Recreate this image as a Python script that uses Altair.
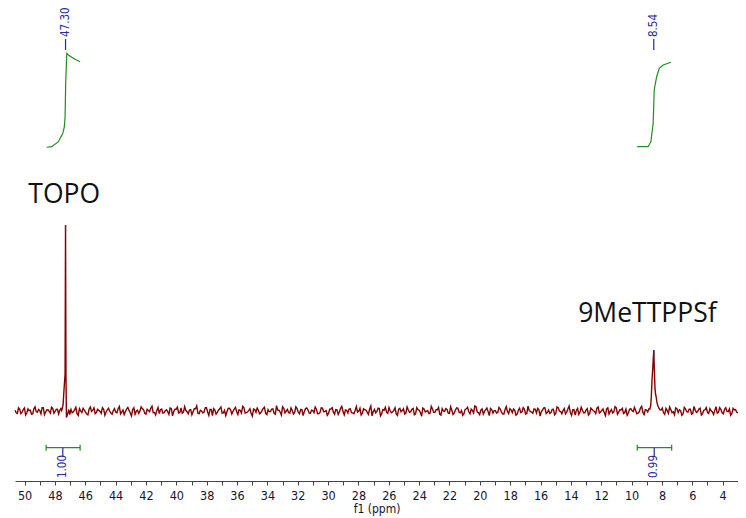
import altair as alt
import numpy as np
import pandas as pd

# ---------------- data ----------------
# baseline noise, hand-read, in screen pixels/2 (up = positive); two interleaved reads
noise_a = [0.4,-1.2,0.9,-0.6,1.5,-1.0,0.2,-1.6,1.1,-0.3,0.8,-1.4,1.7,-0.5,0.6,-1.1,1.3,-0.2,0.9,0.3]
noise_a2 = [-0.9,1.6,-1.3,0.7,-2.0,1.1,0.4,-1.5,2.1,-0.6,0.2,1.7,-1.8,0.5,-0.2,1.9,-1.1,0.8,-1.6,1.2]
noise_b = [
    -1.8,-0.9,0.6,-1.3,1.2,-0.7,0.4,-1.5,1.0,-0.2,1.6,-0.8,0.3,-1.2,0.9,-0.5,1.4,-1.0,0.2,-0.6,
    1.1,-1.4,0.5,-0.3,1.8,-0.9,0.7,-1.6,0.4,-0.1,1.2,-1.1,0.8,-0.4,2.4,-0.7,0.3,-1.3,1.0,-0.8,
    0.6,-1.7,1.3,-0.2,0.9,-1.0,1.5,-0.6,0.2,-1.4,0.7,-0.3,1.1,-1.2,0.4,-0.9,1.6,-0.5,0.8,-2.3,
    0.5,-0.7,1.2,-1.1,0.3,-0.4,1.4,-1.5,0.9,-0.2,0.6,-1.0,1.7,-0.8,0.2,-1.3,1.0,-0.6,0.4,-0.9,
    1.3,-1.2,0.7,-0.3,1.1,-1.6,0.5,-0.5,2.1,-0.9,0.8,-1.1,0.3,-0.7,1.2,-1.4,0.6,-0.2,1.5,-1.0,
    0.4,-0.8,0.9,-1.3,1.6,-0.4,0.2,-1.2,1.0,-0.6,0.7,-1.7,1.3,-0.3,0.5,-1.0,1.1,-0.9,0.3,-0.5,
    1.4,-1.1,0.6,-0.7,1.0,-2.4,0.8,-0.2,1.2,-1.3,0.4,-0.6,1.7,-0.9,0.3,-1.5,0.9,-0.4,1.1,-1.0,
    0.5,-0.3,1.3,-1.4,0.7,-0.8,1.5,-0.5,0.2,-1.1,1.0,-0.7,0.6,-1.6,1.2,-0.2,0.8,-1.2,0.4,-0.9,
    1.6,-0.6,0.3,-1.3,1.1,-0.4,0.9,-1.0,2.2,-0.8,0.5,-1.5,0.7,-0.3,1.3,-1.1,0.2,-0.7,1.0,-1.4,
    0.6,-0.2,1.2,-0.9,0.4,-1.6,1.4,-0.5,0.8,-1.2,0.3,-0.6,1.1,-1.0,0.7,-0.4,1.5,-1.3,0.5,-0.8,
    0.9,-1.1,1.7,-0.3,0.2,-1.4,1.0,-0.7,0.6,-2.0,1.3,-0.5,0.4,-0.9,1.2,-1.2,0.8,-0.2,1.4,-1.0,
    0.3,-0.8,1.1,-1.5,0.7,-0.4,1.6,-0.6,0.5,-1.3,0.9,-1.0,1.2,-0.3,0.2,-1.1,1.5,-0.7,0.6,-0.5,
]
noise_b2 = [
    0.8,-0.4,1.9,-2.2,0.1,1.3,-0.6,-1.9,2.0,0.4,-1.3,0.9,-0.2,1.7,-2.1,0.5,0.0,-1.6,1.2,-0.9,
    2.3,-0.5,-1.8,1.0,0.3,-2.5,1.6,-0.1,-1.2,2.1,0.7,-1.5,0.2,1.4,-0.8,-2.0,1.8,0.6,-1.0,0.1,
    -0.3,1.5,-2.4,0.9,1.9,-0.7,-1.1,2.2,-0.4,0.5,-1.9,1.1,2.6,-1.3,0.0,-0.6,1.7,-2.2,0.8,1.2,
    -1.6,0.4,2.0,-0.9,-2.3,1.3,0.6,-0.2,1.8,-1.7,0.3,2.4,-1.0,-0.5,1.1,-2.6,0.7,1.5,-1.4,0.2,
    1.9,-1.8,-0.3,1.0,-1.2,2.7,0.4,-2.0,1.3,0.0,-0.9,1.6,-1.5,2.1,-0.6,0.8,-2.3,1.2,0.5,-1.1,
    0.2,2.0,-1.4,-0.7,1.5,-0.2,-2.1,0.9,1.7,-1.6,0.6,-0.4,2.3,-1.9,0.3,1.0,-0.8,-1.3,2.2,-0.1,
    -2.0,1.1,0.5,-1.7,2.5,-0.3,-0.9,1.4,-2.4,0.7,1.9,-1.2,0.1,-0.5,1.6,-2.2,1.3,0.2,-1.5,2.0,
    -0.6,0.9,-1.9,1.7,0.4,-2.6,1.0,-0.1,-1.3,2.3,-0.7,0.6,1.8,-2.0,0.0,1.2,-1.1,2.1,-1.7,0.5,
    1.4,-0.9,-2.2,0.8,1.9,-1.4,0.3,2.6,-0.5,-1.8,1.1,-0.2,1.5,-2.3,0.7,0.2,-1.0,1.8,-0.4,-1.6,
    2.2,-1.3,0.6,1.0,-2.1,0.4,-0.8,1.7,-1.5,2.4,-0.3,-1.1,0.9,1.3,-2.5,0.5,1.6,-0.7,-1.2,0.8,
    -1.9,2.1,0.0,-1.4,1.2,-0.6,2.5,-2.2,0.7,0.3,-1.7,1.9,-0.9,0.4,-2.0,1.5,0.1,-1.3,2.0,-0.5,
    1.0,-2.3,1.6,-0.2,-1.0,2.2,-1.6,0.6,1.3,-0.8,-2.1,0.9,0.2,1.8,-1.4,-0.4,2.4,-1.8,0.5,1.1,
]
noise_c = [0.5,-0.9,1.3,-1.2,0.7,-0.4,1.6,-0.8,0.2,-1.5,1.1,-0.6,0.9,-1.1,0.4,-0.3,
           1.4,-1.3,0.6,-0.7,1.2,-0.5,0.3,-1.0,1.7,-0.9,0.8,-0.2,1.0,-1.2,0.5,-0.6]
noise_c2 = [1.5,-1.7,0.3,2.0,-0.8,-1.9,1.2,0.6,-2.2,1.8,-0.4,0.9,-1.5,2.3,-0.7,1.0,
            -2.0,0.4,1.7,-1.2,0.1,-1.8,2.2,-0.6,0.8,-1.4,1.6,-0.3,-2.1,1.3,0.7,-0.9]
noise_ranges = [(50.63, 47.60), (47.02, 8.86), (8.06, 2.99)]
PX_TO_UNITS = 2.0 / 1.86   # one list unit = 2 screen px

# peaks (ppm, intensity)
topo_ppm = [47.56, 47.50, 47.46, 47.42, 47.38, 47.33, 47.30, 47.27, 47.24, 47.20, 47.14, 47.08]
topo_int = [0.3, 1.8, 3.5, 9.0, 14.0, 20.0, 100.0, 18.0, -3.5, -2.5, -1.0, 0.8]
me_ppm = [8.80, 8.74, 8.70, 8.66, 8.60, 8.54, 8.50, 8.46, 8.42, 8.38, 8.34, 8.28, 8.20, 8.12]
me_int = [1.0, 3.0, 8.0, 16.0, 24.0, 32.8, 22.0, 12.0, 9.0, 7.5, 5.0, 3.0, 1.5, 0.5]

# integral curves
int1_ppm = [48.54, 48.21, 47.77, 47.48, 47.38, 47.33, 47.29, 47.22, 47.11, 46.89, 46.67, 46.34]
int1_val = [141.8, 142.1, 144.8, 149.3, 152.8, 158.2, 176.2, 192.3, 191.4, 190.2, 189.1, 187.8]
int2_ppm = [9.63, 8.91, 8.73, 8.58, 8.51, 8.35, 8.18, 7.92, 7.41]
int2_val = [142.1, 142.1, 144.8, 154.7, 172.6, 179.7, 184.2, 186.0, 187.5]

# peak picking labels
peak_pos = [47.30, 8.54]
peak_txt = ["47.30", "8.54"]
peak_tip = [100.0, 32.8]

# integration regions
reg_from = [48.58, 9.63]
reg_to = [46.34, 7.36]
reg_mark = [47.48, 8.51]
reg_txt = ["1.00", "0.99"]

# compound labels
cmp_txt = ["TOPO", "9MeTTPPSf"]
cmp_ppm = [49.75, 13.52]
cmp_y = [111.7, 47.7]

# ---------------- tables ----------------
segs = []
for (a, b), v1, v2 in zip(noise_ranges, [noise_a, noise_b, noise_c],
                          [noise_a2, noise_b2, noise_c2]):
    vals = np.empty(len(v1) * 2)
    vals[0::2] = v1
    vals[1::2] = v2
    segs.append(pd.DataFrame({"ppm": np.linspace(a, b, len(vals)),
                              "v": vals * PX_TO_UNITS}))
spec = pd.concat(
    [segs[0], pd.DataFrame({"ppm": topo_ppm, "v": topo_int}), segs[1],
     pd.DataFrame({"ppm": me_ppm, "v": me_int}), segs[2]], ignore_index=True)
spec["i"] = np.arange(len(spec))

integ = pd.concat([
    pd.DataFrame({"ppm": int1_ppm, "v": int1_val, "g": "a"}),
    pd.DataFrame({"ppm": int2_ppm, "v": int2_val, "g": "b"}),
], ignore_index=True)

peaks = pd.DataFrame({"ppm": peak_pos, "txt": peak_txt, "tip": peak_tip})
regs = pd.DataFrame({"a": reg_from, "b": reg_to, "m": reg_mark, "txt": reg_txt})
cmps = pd.DataFrame({"ppm": cmp_ppm, "v": cmp_y, "txt": cmp_txt})

# ---------------- chart ----------------
XS = alt.Scale(domain=[50.63, 2.99], nice=False, zero=False)
YS = alt.Scale(domain=[-37.63, 216.67], nice=False, zero=False)
RED = "#850000"
GREEN = "#1f8f1f"
BLUE = "#2a2aa0"
AXFONT = "DejaVu Sans Condensed, DejaVu Sans"

xaxis = alt.Axis(
    values=list(range(3, 51)),
    labelExpr="datum.value % 2 == 0 ? datum.label : ''",
    tickSize=4, labelPadding=4, grid=False,
    labelFont=AXFONT, labelFontSize=12.5, labelColor="#15152e",
    labelOverlap=False, labelFlush=False,
    title="f1 (ppm)", titleFont=AXFONT, titleFontSize=12,
    titleFontWeight="normal", titleColor="#15152e", titlePadding=2,
    domainColor="#444", tickColor="#444",
)

def X(field):
    return alt.X(field, type="quantitative", scale=XS, axis=xaxis, title="f1 (ppm)")

def Y(field):
    return alt.Y(field, type="quantitative", scale=YS, axis=None)

spectrum = alt.Chart(spec).mark_line(color=RED, strokeWidth=1.4).encode(
    x=X("ppm"), y=Y("v"), order="i:Q",
)

tips = alt.Chart(peaks).mark_rule(color=BLUE, strokeWidth=1.2).encode(
    x=X("ppm"), y=Y("tip"), y2=alt.Y2("tip2:Q"),
).transform_calculate(tip2="datum.tip - 3.5")

integral = alt.Chart(integ).mark_line(color=GREEN, strokeWidth=1.2).encode(
    x=X("ppm"), y=Y("v"), detail="g:N",
)

peak_ticks = alt.Chart(peaks).mark_rule(color=BLUE, strokeWidth=1.2).encode(
    x=X("ppm"), y=alt.value(31), y2=alt.value(42),
)
peak_labels = alt.Chart(peaks).mark_text(
    angle=270, align="left", baseline="middle", color=BLUE,
    font=AXFONT, fontSize=11.5,
).encode(x=X("ppm"), y=alt.value(29), text="txt:N")

bracket = alt.Chart(regs).mark_rule(color=GREEN, strokeWidth=1.2).encode(
    x=X("a"), x2=alt.X2("b"), y=alt.value(439.7),
)
caps_a = alt.Chart(regs).mark_rule(color=GREEN, strokeWidth=1.2).encode(
    x=X("a"), y=alt.value(436.7), y2=alt.value(442.7),
)
caps_b = alt.Chart(regs).mark_rule(color=GREEN, strokeWidth=1.2).encode(
    x=X("b"), y=alt.value(436.7), y2=alt.value(442.7),
)
reg_ticks = alt.Chart(regs).mark_rule(color=BLUE, strokeWidth=1.2).encode(
    x=X("m"), y=alt.value(439.7), y2=alt.value(448.5),
)
reg_labels = alt.Chart(regs).mark_text(
    angle=270, align="right", baseline="middle", color=BLUE,
    font=AXFONT, fontSize=11.5,
).encode(x=X("m"), y=alt.value(447), text="txt:N")

compounds = alt.Chart(cmps).mark_text(
    align="left", baseline="alphabetic", color="#111111",
    font="Open Sans", fontSize=26.5,
).encode(x=X("ppm"), y=Y("v"), text="txt:N")

chart = alt.layer(
    spectrum, tips, integral, peak_ticks, peak_labels,
    bracket, caps_a, caps_b, reg_ticks, reg_labels, compounds,
).properties(
    width=723, height=473,
    autosize=alt.AutoSizeParams(type="none"),
    padding={"left": 7, "top": 0, "right": 0, "bottom": 37},
).configure_view(strokeWidth=0)

chart.save("out.html", embed_options={"renderer": "svg", "actions": False})
